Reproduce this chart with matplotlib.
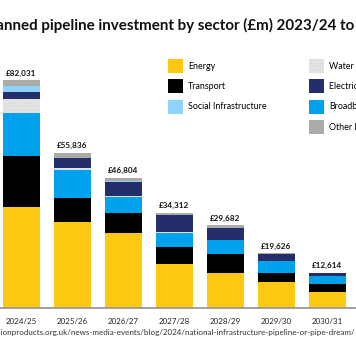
import matplotlib.pyplot as plt
import numpy as np

plt.rcParams['font.family'] = ['Lato', 'DejaVu Sans']
plt.rcParams['hatch.linewidth'] = 0.5

# values in £m
years = ['2024/25', '2025/26', '2026/27', '2027/28', '2028/29', '2029/30', '2030/31']
totals = [82031, 55836, 46804, 34312, 29682, 19626, 12614]
energy = [36300, 31100, 27000, 16000, 12600, 9400, 5600]
transport = [18300, 8600, 7200, 6000, 6800, 3200, 3200]
broadband = [15500, 10100, 5800, 5000, 5000, 4300, 2700]
water = [5000, 400, 300, 200, 100, 50, 50]
electricity = [2700, 3600, 5000, 6100, 4300, 2500, 900]
social = [2200, 300, 300, 200, 100, 100, 100]
other = [2000, 1700, 1200, 800, 800, 100, 100]

# stacking order bottom -> top
stack = [
    ('Energy', energy, '#FCC812'),
    ('Transport', transport, '#000000'),
    ('Broadband', broadband, '#00A2EE'),
    ('Water & Wastewater', water, '#E4E4E4'),
    ('Electricity Networks', electricity, '#232E6B'),
    ('Social Infrastructure', social, '#8DD3FC'),
    ('Other Infrastructure', other, '#AAAAA6'),
]

fig = plt.figure(figsize=(3.56, 3.64), dpi=100)
ax = fig.add_axes([0, 56 / 364, 1, 288 / 364])

x = np.arange(len(years))
bottom = np.zeros(len(years))
handles = {}
for name, vals, col in stack:
    if name.startswith('Water'):
        b = ax.bar(x, vals, 0.725, bottom=bottom, color=col, edgecolor='#d2d2d2',
                   linewidth=0, hatch='.....')
    else:
        b = ax.bar(x, vals, 0.725, bottom=bottom, color=col, linewidth=0)
    handles[name] = b
    bottom += np.array(vals)

for i, t in enumerate(totals):
    ax.annotate('£{:,}'.format(t), (x[i], bottom[i]), xytext=(0, 2.5),
                textcoords='offset points', ha='center', va='bottom',
                fontsize=5.9, fontweight='bold', color='#111111')

ax.set_xlim(-0.42, 6.56)
ax.set_ylim(0, 103600)
for s in ['top', 'right', 'left']:
    ax.spines[s].set_visible(False)
ax.spines['bottom'].set_color('#9a9a9a')
ax.spines['bottom'].set_linewidth(1.3)
ax.set_yticks([])
ax.set_xticks(x)
ax.set_xticklabels(years, fontsize=5.7, color='#222222')
ax.tick_params(axis='x', length=0, pad=7)

fig.text(-0.047, 0.929, 'Planned pipeline investment by sector (£m) 2023/24 to 2032/33',
         fontsize=10.9, fontweight='bold', ha='left', va='center', color='#111111')

leg_kw = dict(loc='upper left', frameon=False, fontsize=6.4, handlelength=1.69,
              handleheight=2.05, labelspacing=0.71, handletextpad=0.56,
              borderpad=0, borderaxespad=0)
names1 = ['Energy', 'Transport', 'Social Infrastructure']
leg1 = fig.legend([handles[n] for n in names1], names1,
                  bbox_to_anchor=(168 / 356, 1 - 59 / 364), **leg_kw)
names2 = ['Water & Wastewater', 'Electricity Networks', 'Broadband', 'Other Infrastructure']
leg2 = fig.legend([handles[n] for n in names2], names2,
                  bbox_to_anchor=(309 / 356, 1 - 59 / 364), **leg_kw)

fig.text(0.995, 1 - 332 / 364,
         'Source: https://www.constructionproducts.org.uk/news-media-events/blog/2024/national-infrastructure-pipeline-or-pipe-dream/',
         fontsize=5.77, ha='right', va='center', color='#333333')

fig.savefig('out.png', dpi=100)
